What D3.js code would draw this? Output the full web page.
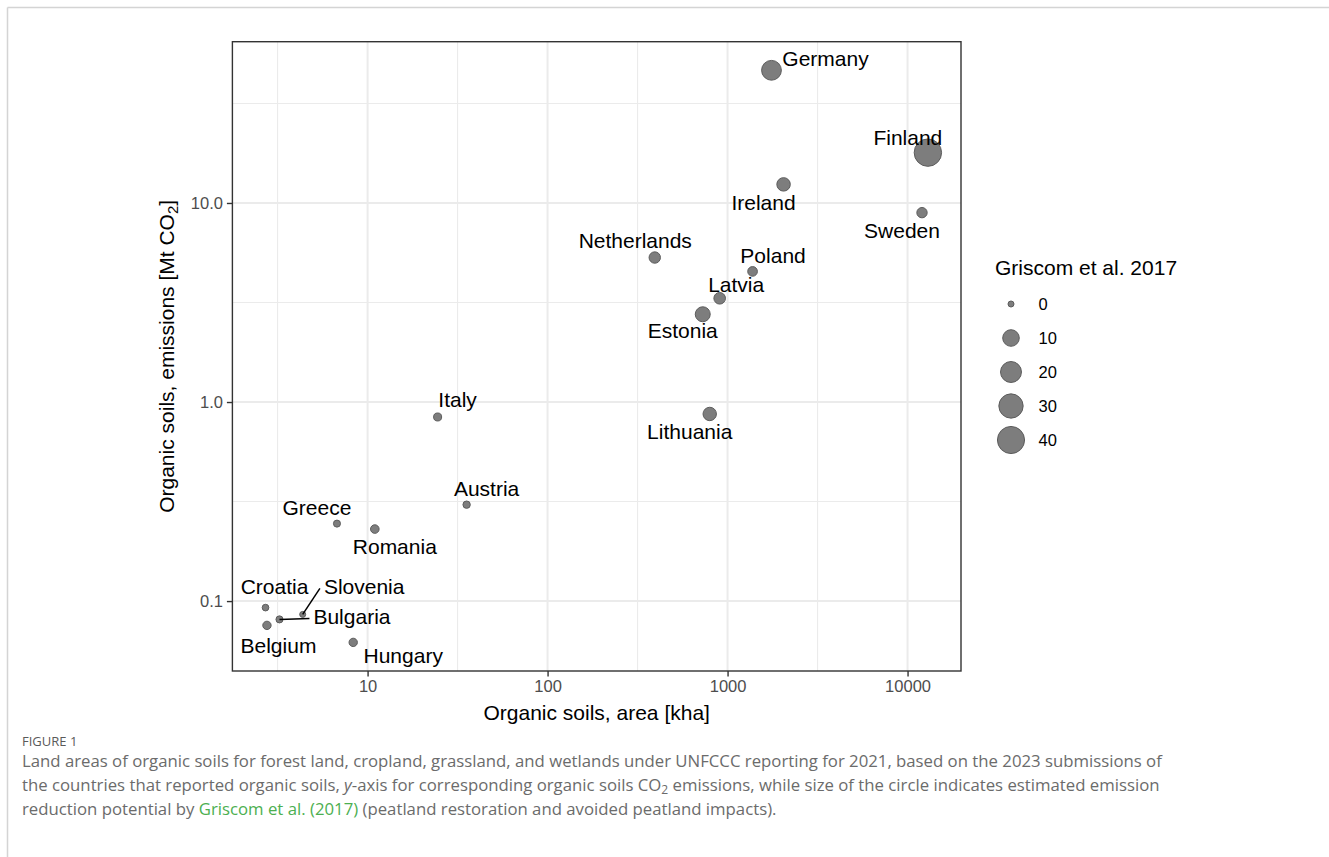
<!DOCTYPE html>
<html>
<head>
<meta charset="utf-8">
<script src="https://cdn.jsdelivr.net/npm/d3@7"></script>
<style>
  html, body { margin: 0; padding: 0; background: #fff; }
  svg { display: block; }
</style>
</head>
<body>
<svg id="chart" width="1329" height="857"></svg>
<script>
// ---------------- data ----------------
const countries = ["Germany","Finland","Ireland","Sweden","Netherlands","Poland","Latvia","Estonia","Lithuania","Italy","Austria","Greece","Romania","Croatia","Slovenia","Bulgaria","Belgium","Hungary"];
const areaKha = [1754,12970,2047,12030,394,1377,904,728,796,24.5,35.5,6.76,10.97,2.71,4.36,3.24,2.76,8.32];
const emissionsMt = [46.4,17.9,12.4,8.94,5.32,4.53,3.32,2.76,0.871,0.841,0.305,0.245,0.230,0.0927,0.0857,0.0809,0.0755,0.0620];
const griscom = [17,41,5,1.7,2.6,1.2,2.8,7.2,4.9,0.36,0.17,0.1,0.6,0.04,0,0.1,0.5,0.5];

const xTicks = [10,100,1000,10000];
const xTickLabels = ["10","100","1000","10000"];
const yTicks = [0.1,1,10];
const yTickLabels = ["0.1","1.0","10.0"];
const legendBreaks = [0,10,20,30,40];
const legendLabels = ["0","10","20","30","40"];

// label placement (repel result), pixel offsets from the point
const labelOffsets = {
  Germany:[54,-12], Finland:[-20,-15], Ireland:[-20,18], Sweden:[-20,18],
  Netherlands:[-19.5,-17], Poland:[20.5,-16], Latvia:[16.5,-14], Estonia:[-20,16.5],
  Lithuania:[-20,17], Italy:[20,-18], Austria:[20,-16], Greece:[-20,-16],
  Romania:[20,17], Croatia:[9,-21], Slovenia:[61.5,-27.5], Bulgaria:[72.5,-2.5],
  Belgium:[11.5,20], Hungary:[50,13]
};
const withSegment = {Slovenia:true, Bulgaria:true};

// ---------------- layout ----------------
const svg = d3.select("#chart");
const FONT = "'Liberation Sans', Arial, Helvetica, sans-serif";
const panel = {left: 232.4, right: 961, top: 41.7, bottom: 671};

function expandedLogDomain(vals){
  const lo = Math.log10(d3.min(vals)), hi = Math.log10(d3.max(vals));
  const pad = (hi - lo) * 0.05;
  return [Math.pow(10, lo - pad), Math.pow(10, hi + pad)];
}
const x = d3.scaleLog().domain(expandedLogDomain(areaKha)).range([panel.left, panel.right]);
const y = d3.scaleLog().domain(expandedLogDomain(emissionsMt)).range([panel.bottom, panel.top]);
const r = d3.scaleSqrt().domain([0, d3.max(griscom)]).range([3, 13.7]);

// page frame lines
svg.append("line").attr("x1",7.5).attr("x2",1329).attr("y1",7.5).attr("y2",7.5)
  .attr("stroke","#d4d4d4").attr("stroke-width",1.5);
svg.append("line").attr("x1",7.5).attr("x2",7.5).attr("y1",7.5).attr("y2",857)
  .attr("stroke","#d4d4d4").attr("stroke-width",1.5);

// grid
const g = svg.append("g");
const xMinor = [0.5,1.5,2.5,3.5].map(e => Math.pow(10,e)).filter(v => x(v) > panel.left && x(v) < panel.right);
const yMinor = [-1.5,-0.5,0.5,1.5].map(e => Math.pow(10,e)).filter(v => y(v) > panel.top && y(v) < panel.bottom);
g.selectAll(".xmin").data(xMinor).join("line")
  .attr("x1",d=>x(d)).attr("x2",d=>x(d)).attr("y1",panel.top).attr("y2",panel.bottom)
  .attr("stroke","#ebebeb").attr("stroke-width",1.1);
g.selectAll(".ymin").data(yMinor).join("line")
  .attr("y1",d=>y(d)).attr("y2",d=>y(d)).attr("x1",panel.left).attr("x2",panel.right)
  .attr("stroke","#ebebeb").attr("stroke-width",1.1);
g.selectAll(".xmaj").data(xTicks).join("line")
  .attr("x1",d=>x(d)).attr("x2",d=>x(d)).attr("y1",panel.top).attr("y2",panel.bottom)
  .attr("stroke","#ebebeb").attr("stroke-width",2);
g.selectAll(".ymaj").data(yTicks).join("line")
  .attr("y1",d=>y(d)).attr("y2",d=>y(d)).attr("x1",panel.left).attr("x2",panel.right)
  .attr("stroke","#ebebeb").attr("stroke-width",2);

// axes
const xAxis = d3.axisBottom(x).tickValues(xTicks).tickFormat((d,i)=>xTickLabels[i]).tickSizeInner(5.5).tickSizeOuter(0).tickPadding(4);
const yAxis = d3.axisLeft(y).tickValues(yTicks).tickFormat((d,i)=>yTickLabels[i]).tickSizeInner(5.5).tickSizeOuter(0).tickPadding(4);
const gx = svg.append("g").attr("transform",`translate(0,${panel.bottom})`).call(xAxis);
const gy = svg.append("g").attr("transform",`translate(${panel.left},0)`).call(yAxis);
[gx,gy].forEach(a=>{
  a.select(".domain").remove();
  a.selectAll(".tick line").attr("stroke","#333").attr("stroke-width",1.4);
  a.selectAll(".tick text").attr("fill","#4d4d4d").style("font-family",FONT).style("font-size","16.5px");
});

// panel border
svg.append("rect").attr("x",panel.left).attr("y",panel.top)
  .attr("width",panel.right-panel.left).attr("height",panel.bottom-panel.top)
  .attr("fill","none").attr("stroke","#333").attr("stroke-width",1.4);

// axis titles
svg.append("text").attr("x",(panel.left+panel.right)/2).attr("y",719.5)
  .attr("text-anchor","middle").style("font-family",FONT).style("font-size","21px")
  .text("Organic soils, area [kha]");
const yt = svg.append("text").attr("transform",`translate(173.5,${(panel.top+panel.bottom)/2}) rotate(-90)`)
  .attr("text-anchor","middle").style("font-family",FONT).style("font-size","21px");
yt.append("tspan").text("Organic soils, emissions [Mt CO");
yt.append("tspan").attr("font-size","15px").attr("dy","4").text("2");
yt.append("tspan").attr("dy","-4").text("]");

// points
const rows = countries.map((c,i)=>({name:c, ax:areaKha[i], em:emissionsMt[i], gr:griscom[i]}));
const pts = svg.append("g");
pts.selectAll("circle").data(rows).join("circle")
  .attr("cx",d=>x(d.ax)).attr("cy",d=>y(d.em)).attr("r",d=>r(d.gr))
  .attr("fill","#7d7d7d").attr("stroke","#5c5c5c").attr("stroke-width",1);

// labels
const lab = svg.append("g");
rows.forEach(d=>{
  const px = x(d.ax), py = y(d.em);
  const off = labelOffsets[d.name];
  const lx = px + off[0], ly = py + off[1];
  const t = lab.append("text").attr("x",lx).attr("y",ly).attr("dy","0.36em")
    .attr("text-anchor","middle").style("font-family",FONT).style("font-size","21px")
    .attr("fill","#000").text(d.name);
  if (withSegment[d.name]) {
    const w = t.node().getComputedTextLength();
    lab.insert("line",":first-child").attr("x1",px).attr("y1",py)
      .attr("x2",lx - w/2 - 4).attr("y2",ly + 1.5)
      .attr("stroke","#000").attr("stroke-width",1.5);
  }
});

// legend
const lg = svg.append("g");
lg.append("text").attr("x",995).attr("y",275).style("font-family",FONT).style("font-size","21px").text("Griscom et al. 2017");
const legY = d3.scalePoint().domain(legendBreaks).range([304, 440]);
lg.selectAll("circle").data(legendBreaks).join("circle")
  .attr("cx",1011).attr("cy",d=>legY(d)).attr("r",d=>r(d))
  .attr("fill","#7d7d7d").attr("stroke","#5c5c5c").attr("stroke-width",1);
lg.selectAll(".ll").data(legendBreaks).join("text")
  .attr("x",1038.5).attr("y",d=>legY(d)).attr("dy","0.36em")
  .style("font-family",FONT).style("font-size","16.5px").text((d,i)=>legendLabels[i]);

// caption
const CAP = "'Open Sans', 'Noto Sans', sans-serif";
svg.append("text").attr("x",22).attr("y",746).style("font-family",CAP).style("font-size","13px")
  .attr("fill","#5a5a5a").text("FIGURE 1");
const capLines = [
  [{t:"Land areas of organic soils for forest land, cropland, grassland, and wetlands under UNFCCC reporting for 2021, based on the 2023 submissions of"}],
  [{t:"the countries that reported organic soils, "},{t:"y",it:true},{t:"-axis for corresponding organic soils CO"},{t:"2",sub:true},{t:" emissions, while size of the circle indicates estimated emission"}],
  [{t:"reduction potential by "},{t:"Griscom et al. (2017)",green:true},{t:" (peatland restoration and avoided peatland impacts)."}]
];
const capG = svg.append("g").style("font-family",CAP).attr("fill","#6b6b6b");
const capTexts = capLines.map((parts,i)=>{
  const t = capG.append("text").attr("x",22).attr("y",767 + i*24);
  parts.forEach(p=>{
    const s = t.append("tspan").text(p.t);
    if (p.it) s.style("font-style","italic");
    if (p.green) s.attr("fill","#4caf50");
    if (p.sub) { s.attr("font-size","0.72em").attr("dy","3"); }
  });
  t.selectAll("tspan").each(function(d,j,nodes){
    if (j>0 && d3.select(nodes[j-1]).attr("dy")==="3") d3.select(this).attr("dy","-3");
  });
  return t;
});
capG.style("font-size","15px");
const w1 = capTexts[0].node().getComputedTextLength();
const fs = 15 * (1141 / w1);
capG.style("font-size", fs + "px");
</script>
</body>
</html>
